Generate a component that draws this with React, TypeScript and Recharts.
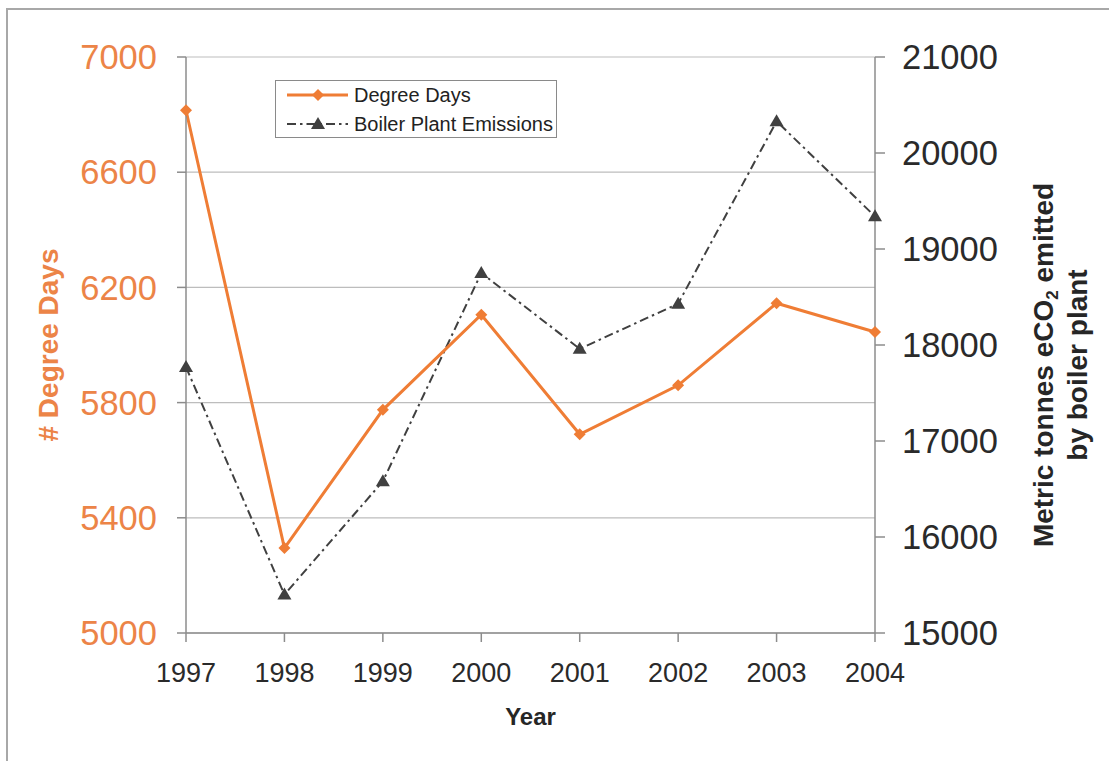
import React from "react";
import { LineChart, Line, XAxis, YAxis, CartesianGrid, Legend, Label } from "recharts";

const YEARS = ["1997", "1998", "1999", "2000", "2001", "2002", "2003", "2004"];
const DEGREE_DAYS = [6815, 5295, 5775, 6105, 5690, 5860, 6145, 6045];
const EMISSIONS = [17770, 15400, 16580, 18750, 17960, 18430, 20330, 19340];
const DEGREE_TICKS = [5000, 5400, 5800, 6200, 6600, 7000];
const EMISSION_TICKS = [15000, 16000, 17000, 18000, 19000, 20000, 21000];

const data = YEARS.map((year, i) => ({
  year,
  degreeDays: DEGREE_DAYS[i],
  emissions: EMISSIONS[i],
}));

const FONT = '"Liberation Sans", Arial, Helvetica, sans-serif';
const ORANGE = "#ef7d35";
const ORANGE_TEXT = "#ec8447";
const DARK = "#404040";
const AXIS = "#8c8c8c";
const DASH = "9 4 2.5 4";

const diamondPath = (x: number, y: number, r: number) =>
  `M${x},${y - r}L${x + r},${y}L${x},${y + r}L${x - r},${y}Z`;
const trianglePath = (x: number, y: number) =>
  `M${x},${y - 7}L${x + 7},${y + 5}L${x - 7},${y + 5}Z`;

const renderDiamond = (props: any) => {
  const { cx, cy, index } = props;
  if (cx == null || cy == null) return <g key={`d-${index}`} />;
  return <path key={`d-${index}`} d={diamondPath(cx, cy, 6)} fill={ORANGE} />;
};

const renderTriangle = (props: any) => {
  const { cx, cy, index } = props;
  if (cx == null || cy == null) return <g key={`t-${index}`} />;
  return <path key={`t-${index}`} d={trianglePath(cx, cy)} fill={DARK} />;
};

const renderLegend = (props: any) => {
  const order = ["degreeDays", "emissions"];
  const entries = [...(props.payload || [])].sort(
    (a: any, b: any) => order.indexOf(a.dataKey) - order.indexOf(b.dataKey)
  );
  return (
    <svg width={282} height={58} style={{ display: "block" }}>
      <rect x={0.5} y={0.5} width={281} height={57} fill="#fff" stroke="#8a8a8a" />
      {entries.map((entry: any, i: number) => {
        const y = 15 + i * 29;
        const isDegree = entry.dataKey === "degreeDays";
        return (
          <g key={entry.dataKey}>
            <line
              x1={12}
              x2={73}
              y1={y}
              y2={y}
              stroke={isDegree ? ORANGE : DARK}
              strokeWidth={isDegree ? 3 : 2}
              strokeDasharray={isDegree ? undefined : DASH}
            />
            {isDegree ? (
              <path d={diamondPath(43, y, 6)} fill={ORANGE} />
            ) : (
              <path d={trianglePath(43, y)} fill={DARK} />
            )}
            <text x={79} y={y + 7} fontSize={20} fill="#222" fontFamily={FONT}>
              {entry.value}
            </text>
          </g>
        );
      })}
    </svg>
  );
};

const leftLabel = (props: any) => {
  const vb = props.viewBox || {};
  const cx = vb.x + 31;
  const cy = vb.y + vb.height / 2;
  return (
    <text
      x={cx}
      y={cy}
      transform={`rotate(-90 ${cx} ${cy})`}
      textAnchor="middle"
      fontSize={28}
      fontWeight="bold"
      fill={ORANGE_TEXT}
      fontFamily={FONT}
    >
      <tspan x={cx} dy={10}># Degree Days</tspan>
    </text>
  );
};

const rightLabel = (props: any) => {
  const vb = props.viewBox || {};
  const cx = vb.x + 168;
  const cy = vb.y + vb.height / 2 + 20;
  return (
    <text
      x={cx}
      y={cy}
      transform={`rotate(-90 ${cx} ${cy})`}
      textAnchor="middle"
      fontSize={28}
      fontWeight="bold"
      fill="#262626"
      fontFamily={FONT}
    >
      <tspan x={cx} dy={10}>
        Metric tonnes eCO
        <tspan fontSize={17} dy={5}>2</tspan>
        <tspan dy={-5}> emitted</tspan>
      </tspan>
      <tspan x={cx} dy={34}>by boiler plant</tspan>
    </text>
  );
};

const yearLabel = (props: any) => {
  const vb = props.viewBox || {};
  return (
    <text
      x={vb.x + vb.width / 2}
      y={vb.y + 92}
      textAnchor="middle"
      fontSize={24}
      fontWeight="bold"
      fill="#262626"
      fontFamily={FONT}
    >
      Year
    </text>
  );
};

export default function App() {
  return (
    <div
      style={{
        position: "fixed",
        left: 6,
        top: 8,
        width: 1103,
        height: 753,
        borderLeft: "2px solid #a8a8a8",
        borderTop: "2px solid #a8a8a8",
        boxSizing: "border-box",
        background: "#fff",
        fontFamily: FONT,
      }}
    >
      <LineChart
        width={1099}
        height={743}
        data={data}
        margin={{ top: 47, right: 10, bottom: 3, left: 9 }}
      >
        <CartesianGrid yAxisId="left" vertical={false} stroke="#bdbdbd" strokeWidth={1.2} />
        <XAxis
          dataKey="year"
          interval={0}
          height={117}
          tickSize={9}
          tickMargin={21}
          stroke={AXIS}
          strokeWidth={1.5}
          tick={{ fontSize: 27, fill: "#2a2a2a", fontFamily: FONT }}
        >
          <Label content={yearLabel} />
        </XAxis>
        <YAxis
          yAxisId="left"
          domain={[5000, 7000]}
          ticks={DEGREE_TICKS}
          width={169}
          tickSize={9}
          tickMargin={20}
          stroke={AXIS}
          strokeWidth={1.5}
          tick={{ fontSize: 34.5, fill: ORANGE_TEXT, fontFamily: FONT }}
        >
          <Label content={leftLabel} />
        </YAxis>
        <YAxis
          yAxisId="right"
          orientation="right"
          domain={[15000, 21000]}
          ticks={EMISSION_TICKS}
          width={222}
          tickSize={10}
          tickMargin={17}
          stroke={AXIS}
          strokeWidth={1.5}
          tick={{ fontSize: 34.5, fill: "#2a2a2a", fontFamily: FONT }}
        >
          <Label content={rightLabel} />
        </YAxis>
        <Legend
          layout="vertical"
          align="center"
          verticalAlign="middle"
          content={renderLegend}
          wrapperStyle={{ left: 267, top: 70, width: 282, height: 58 }}
        />
        <Line
          yAxisId="right"
          dataKey="emissions"
          name="Boiler Plant Emissions"
          type="linear"
          stroke={DARK}
          strokeWidth={2}
          strokeDasharray={DASH}
          dot={renderTriangle}
          activeDot={false}
          isAnimationActive={false}
        />
        <Line
          yAxisId="left"
          dataKey="degreeDays"
          name="Degree Days"
          type="linear"
          stroke={ORANGE}
          strokeWidth={3}
          dot={renderDiamond}
          activeDot={false}
          isAnimationActive={false}
        />
      </LineChart>
    </div>
  );
}
